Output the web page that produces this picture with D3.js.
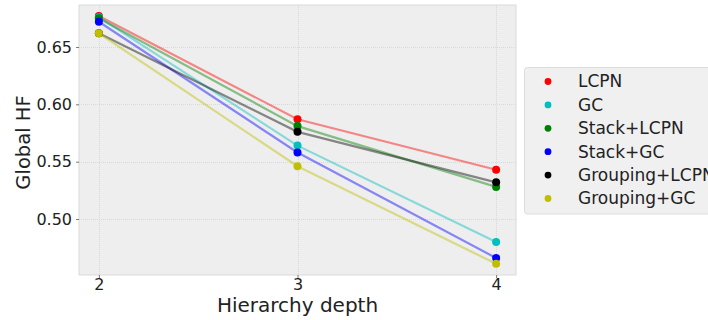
<!DOCTYPE html>
<html>
<head>
<meta charset="utf-8">
<script src="https://cdn.jsdelivr.net/npm/d3@7/dist/d3.min.js"></script>
<style>
  html, body { margin: 0; padding: 0; background: #ffffff; }
  svg { display: block; font-family: "DejaVu Sans", sans-serif; }
</style>
</head>
<body>
<svg id="chart" width="708" height="320"></svg>
<script>
// Hierarchy depths on the x axis
const depths = [2, 3, 4];

// Series names and colours
const seriesNames = ["LCPN", "GC", "Stack+LCPN", "Stack+GC", "Grouping+LCPN", "Grouping+GC"];
const seriesColors = ["#ff0000", "#00bfbf", "#008000", "#0000ff", "#000000", "#bfbf00"];

// Global HF per depth, one array per method
const lcpn          = [0.677, 0.587, 0.543];
const gc            = [0.676, 0.564, 0.480];
const stackLcpn     = [0.675, 0.581, 0.528];
const stackGc       = [0.672, 0.558, 0.466];
const groupingLcpn  = [0.662, 0.576, 0.532];
const groupingGc    = [0.662, 0.546, 0.461];
const seriesValues = [lcpn, gc, stackLcpn, stackGc, groupingLcpn, groupingGc];

// Axis ticks and limits
const yTicks = [0.50, 0.55, 0.60, 0.65];
const xLimits = [1.9, 4.1];
const yLimits = [0.4512, 0.6866];

const svg = d3.select("#chart");
const plot = { left: 79, right: 516, top: 5, bottom: 275 };

const x = d3.scaleLinear().domain(xLimits).range([plot.left, plot.right]);
const y = d3.scaleLinear().domain(yLimits).range([plot.bottom, plot.top]);

// Plot background
svg.append("rect")
  .attr("x", plot.left).attr("y", plot.top)
  .attr("width", plot.right - plot.left).attr("height", plot.bottom - plot.top)
  .attr("fill", "#eeeeee").attr("stroke", "#dadada").attr("stroke-width", 1);

// Grid lines
const grid = svg.append("g");
grid.selectAll("line.gy").data(yTicks).join("line")
  .attr("x1", plot.left).attr("x2", plot.right)
  .attr("y1", d => Math.round(y(d)) + 0.5).attr("y2", d => Math.round(y(d)) + 0.5)
  .attr("stroke", "#d2d2d2").attr("stroke-width", 0.8).attr("stroke-dasharray", "1,1");
grid.selectAll("line.gx").data(depths).join("line")
  .attr("y1", plot.top).attr("y2", plot.bottom)
  .attr("x1", d => Math.round(x(d)) + 0.5).attr("x2", d => Math.round(x(d)) + 0.5)
  .attr("stroke", "#d2d2d2").attr("stroke-width", 0.8).attr("stroke-dasharray", "1,1");

// Axes
const xAxis = d3.axisBottom(x).tickValues(depths).tickFormat(d3.format("d")).tickSize(3).tickPadding(0.5);
const yAxis = d3.axisLeft(y).tickValues(yTicks).tickFormat(d3.format(".2f")).tickSize(3).tickPadding(4);

const gx = svg.append("g").attr("transform", `translate(0,${plot.bottom})`).call(xAxis);
const gy = svg.append("g").attr("transform", `translate(${plot.left},0)`).call(yAxis);
[gx, gy].forEach(g => {
  g.select(".domain").remove();
  g.selectAll(".tick line").attr("stroke", "#777777");
  g.selectAll(".tick text").attr("fill", "#222222").style("font-size", "16px")
    .style("font-family", "DejaVu Sans, sans-serif");
});

// Axis titles
svg.append("text")
  .attr("x", (plot.left + plot.right) / 2).attr("y", 312)
  .attr("text-anchor", "middle").attr("fill", "#222222")
  .style("font-size", "20px").text("Hierarchy depth");
svg.append("text")
  .attr("transform", `translate(30,142.5) rotate(-90)`)
  .attr("text-anchor", "middle").attr("fill", "#222222")
  .style("font-size", "19.5px").text("Global HF");

// Lines then markers
const line = d3.line().x((d, i) => x(depths[i])).y(d => y(d));
const series = seriesNames.map((name, i) => ({ name, color: seriesColors[i], values: seriesValues[i] }));

svg.append("g").selectAll("path").data(series).join("path")
  .attr("d", d => line(d.values))
  .attr("fill", "none").attr("stroke", d => d.color)
  .attr("stroke-opacity", 0.44).attr("stroke-width", 2.2);

const markers = svg.append("g");
series.forEach(s => {
  markers.selectAll(null).data(s.values).join("circle")
    .attr("cx", (d, i) => x(depths[i])).attr("cy", d => y(d))
    .attr("r", 4).attr("fill", s.color);
});

// Legend
const legend = svg.append("g");
legend.append("rect")
  .attr("x", 524.5).attr("y", 67.5).attr("width", 200).attr("height", 146.5)
  .attr("rx", 3).attr("fill", "#f0f0f0").attr("stroke", "#dddddd").attr("stroke-width", 1);
const rows = legend.selectAll("g.row").data(series).join("g")
  .attr("transform", (d, i) => `translate(0,${81.5 + i * 23.4})`);
rows.append("circle").attr("cx", 548).attr("cy", 0).attr("r", 3.4).attr("fill", d => d.color);
rows.append("text").attr("x", 578).attr("y", 0).attr("dy", "0.35em")
  .attr("fill", "#222222").style("font-size", "17px").text(d => d.name);
</script>
</body>
</html>
